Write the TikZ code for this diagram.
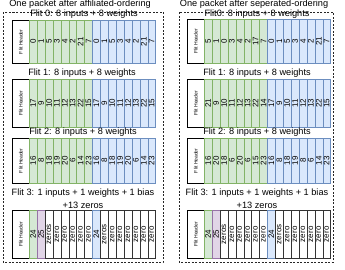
\documentclass[tikz,border=0pt]{standalone}
\usepackage{fontspec}
\setmainfont{Liberation Sans}
\usepackage{graphicx}
\definecolor{gfill}{HTML}{D5E8D4}
\definecolor{gline}{HTML}{82B366}
\definecolor{bfill}{HTML}{DAE8FC}
\definecolor{bline}{HTML}{6C8EBF}
\definecolor{pfill}{HTML}{E1D5E7}
\definecolor{pline}{HTML}{9673A6}
\tikzset{
  cellbase/.style={rectangle, inner sep=0pt, anchor=north west, minimum width=7.9pt, line width=0.5pt},
  gcell/.style={cellbase, draw=gline, fill=gfill},
  bcell/.style={cellbase, draw=bline, fill=bfill},
  pcell/.style={cellbase, draw=pline, fill=pfill},
  wcell/.style={cellbase, draw=black!80, fill=white},
  hdr/.style={rectangle, inner sep=0pt, anchor=north west, minimum width=17pt, draw=black, line width=0.6pt, fill=white},
  lbl/.style={inner sep=0pt, font=\fontsize{9.2}{10}\selectfont},
  dashbox/.style={draw=black!85, line width=0.7pt, dash pattern=on 2pt off 1.5pt}
}
\newcommand\celltext[1]{\rotatebox{90}{\fontsize{8}{8}\selectfont #1}}
\newcommand\hdrtext{\rotatebox{90}{\fontsize{5}{5}\selectfont Flit Header}}
% #1 prefix, #2 header left x, #3 top y, #4 height, #5 green list, #6 blue list
\newcommand\flitrow[6]{%
  \node[hdr, minimum height=#4pt] (#1h) at (#2pt,-#3pt) {\hdrtext};
  \foreach \v [count=\i] in {#5} {
    \node[gcell, minimum height=#4pt] (#1g\i) at ({(#2+17+(\i-1)*7.9)*1pt},-#3pt) {\celltext{\v}};
  }
  \foreach \v [count=\i] in {#6} {
    \node[bcell, minimum height=#4pt] (#1b\i) at ({(#2+17+(\i+7)*7.9)*1pt},-#3pt) {\celltext{\v}};
  }
}
% #1 prefix, #2 header left x, #3 top y, #4 height
\newcommand\lastrow[4]{%
  \node[hdr, minimum height=#4pt] (#1h) at (#2pt,-#3pt) {\hdrtext};
  \foreach \s/\t [count=\i] in {gcell/24, pcell/25, wcell/zeros, wcell/zero, wcell/zero, wcell/zero, wcell/zero, wcell/zero, bcell/24, wcell/zeros, wcell/zero, wcell/zero, wcell/zero, wcell/zero, wcell/zero, wcell/zero} {
    \node[\s, minimum height=#4pt] (#1c\i) at ({(#2+17+(\i-1)*7.9)*1pt},-#3pt) {\celltext{\t}};
  }
}
\begin{document}
\begin{tikzpicture}
\useasboundingbox (0,0) rectangle (345pt,-269pt);
% dashed packet frames
\draw[dashbox] (3pt,-12pt) rectangle (163pt,-262pt);
\draw[dashbox] (179pt,-12pt) rectangle (333pt,-262pt);
% left packet
\node[lbl] (Ltitle) at (80pt,-4pt) {One packet after affiliated-ordering};
\node[lbl] (Ll0) at (84pt,-14.5pt) {Flit 0: 8 inputs + 8 weights};
\flitrow{La}{12}{20}{43}{0,1,5,3,4,2,21,7}{0,1,5,3,4,2,21,7}
\node[lbl] (Ll1) at (82pt,-73pt) {Flit 1: 8 inputs + 8 weights};
\flitrow{Lb}{12}{79}{48}{17,9,10,11,12,13,22,15}{17,9,10,11,12,13,22,15}
\node[lbl] (Ll2) at (83pt,-132.5pt) {Flit 2: 8 inputs + 8 weights};
\flitrow{Lc}{12}{138}{45}{16,8,18,19,20,6,14,23}{16,8,18,19,20,6,14,23}
\node[lbl] (Ll3) at (83pt,-193pt) {Flit 3: 1 inputs + 1 weights + 1 bias};
\node[lbl] (Ll3z) at (83pt,-205.5pt) {+13 zeros};
\lastrow{Ld}{12}{210}{48}
% right packet
\node[lbl] (Rtitle) at (254pt,-4pt) {One packet after seperated-ordering};
\node[lbl] (Rl0) at (257pt,-14.5pt) {Flit0: 8 inputs + 8 weights};
\flitrow{Ra}{187}{19}{44}{5,1,0,3,4,2,17,7}{0,1,5,3,4,2,21,7}
\node[lbl] (Rl1) at (257pt,-73pt) {Flit 1: 8 inputs + 8 weights};
\flitrow{Rb}{187}{79}{48}{21,9,10,11,12,13,22,14}{17,9,10,11,12,13,22,15}
\node[lbl] (Rl2) at (257pt,-132.5pt) {Flit 2: 8 inputs + 8 weights};
\flitrow{Rc}{187}{138}{45}{16,20,18,6,20,6,15,23}{16,8,18,19,8,6,14,23}
\node[lbl] (Rl3) at (257pt,-193pt) {Flit 3: 1 inputs + 1 weights + 1 bias};
\node[lbl] (Rl3z) at (257pt,-205.5pt) {+13 zeros};
\lastrow{Rd}{187}{210}{48}
\end{tikzpicture}
\end{document}
